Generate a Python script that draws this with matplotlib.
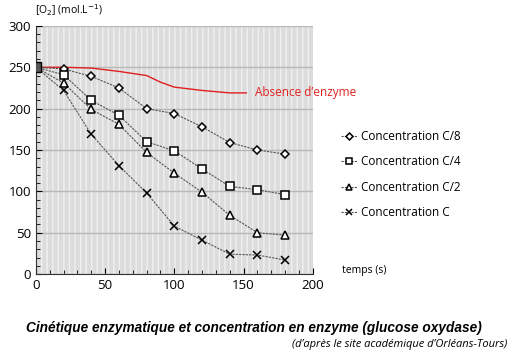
import matplotlib
matplotlib.use("Agg")
import matplotlib.pyplot as plt
from matplotlib.patches import Rectangle
from matplotlib.ticker import MultipleLocator

plt.rcParams['font.family'] = ['Open Sans', 'DejaVu Sans']

# temps (s)
t = [0, 20, 40, 60, 80, 100, 120, 140, 160, 180]
c8 = [250, 248, 239, 225, 200, 194, 178, 159, 150, 145]
c4 = [250, 241, 210, 192, 160, 149, 127, 106, 102, 96]
c2 = [250, 231, 199, 181, 147, 122, 99, 71, 50, 47]
c1 = [250, 222, 169, 131, 98, 58, 41, 24, 23, 17]

t_abs = [0, 20, 40, 60, 80, 90, 100, 120, 140, 152]
o2_abs = [250, 250, 249, 245, 240, 232, 226, 222, 219, 219]

series = [
    ("Concentration C/8", c8, "D", 4.2),
    ("Concentration C/4", c4, "s", 5.8),
    ("Concentration C/2", c2, "^", 5.5),
    ("Concentration C", c1, "x", 5.5),
]

fig = plt.figure(figsize=(5.12, 3.55), dpi=100)
ax = fig.add_axes([0.070, 0.228, 0.541, 0.699])

# hatched grey background of the plot area
ax.set_facecolor('#dcdcdc')
ax.add_patch(Rectangle((0, 0), 1, 1, transform=ax.transAxes, facecolor='none',
                       edgecolor='#f0f0f0', hatch='|||', lw=0, zorder=0))
ax.grid(axis='y', color='#b8b8b8', lw=1.0, zorder=1)

handles = []
for label, y, mk, ms in series:
    h, = ax.plot(t, y, color='#555555', lw=0.8, ls=(0, (2, 1)), marker=mk,
                 ms=ms, mfc='white', mec='black', mew=1.1, zorder=3)
    handles.append(h)
ax.plot([0], [250], marker='s', ms=6.5, color='#555555', mec='black', zorder=4)

ax.plot(t_abs, o2_abs, color='#e02020', lw=1.0, zorder=2)
ax.text(158, 219, "Absence d\u2019enzyme", color='#e02020', fontsize=8.5, va='center')

ax.set_xlim(0, 200)
ax.set_ylim(0, 300)
ax.xaxis.set_major_locator(MultipleLocator(50))
ax.yaxis.set_major_locator(MultipleLocator(50))
ax.xaxis.set_minor_locator(MultipleLocator(10))
ax.yaxis.set_minor_locator(MultipleLocator(10))
ax.tick_params(which='both', direction='in', length=3, labelsize=9.5)
ax.tick_params(which='major', length=4)
for s in ['top', 'right']:
    ax.spines[s].set_visible(False)
ax.spines['left'].set_color('#333333')
ax.spines['bottom'].set_color('#333333')

fig.text(0.068, 0.97, "[O$_2$] (mol.L$^{-1}$)", fontsize=7.5, ha='left', va='center')
fig.text(0.668, 0.238, "temps (s)", fontsize=7.5, ha='left', va='center')

leg = fig.legend(handles, [s[0] for s in series], loc='center left',
                 bbox_to_anchor=(0.645, 0.508), frameon=False, fontsize=8.5,
                 handlelength=1.4, handletextpad=0.3, labelspacing=1.05,
                 markerscale=0.85)

fig.text(0.495, 0.077, "Cinétique enzymatique et concentration en enzyme (glucose oxydase)",
         fontsize=9.8, fontweight='bold', style='italic', ha='center', va='center',
         family=['Liberation Sans', 'DejaVu Sans'])
fig.text(0.99, 0.030, "(d\u2019après le site académique d\u2019Orléans-Tours)",
         fontsize=8, style='italic', ha='right', va='center')

fig.savefig("out.png", dpi=100)
